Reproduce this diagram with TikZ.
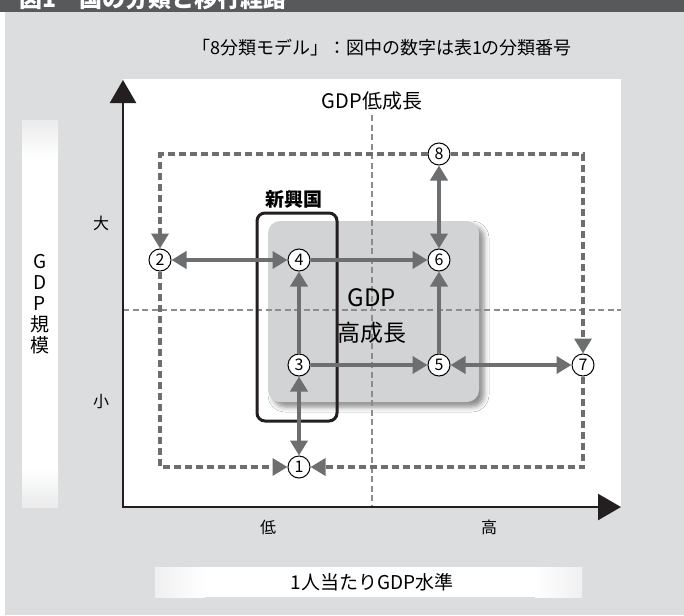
\documentclass[tikz,border=0pt]{standalone}
\usepackage{fontspec}
\setmainfont{Noto Sans CJK JP}
\usetikzlibrary{arrows.meta,shadows,shadows.blur,fadings}
\definecolor{bggray}{HTML}{DCDDDE}
\definecolor{hdr}{HTML}{58595B}
\definecolor{arr}{HTML}{6D6E70}
\definecolor{boxgray}{HTML}{D1D3D4}
\definecolor{thinc}{HTML}{8C8C8C}
\definecolor{axisc}{HTML}{231F20}
\tikzset{
  num/.style={circle, draw=black, line width=1pt, fill=white, minimum size=22pt, inner sep=0pt, font=\fontsize{16}{16}\selectfont},
  flow/.style={draw=arr, line width=4.5pt},
  dflow/.style={draw=arr, line width=3.5pt, dash pattern=on 7pt off 4pt, line join=miter, -{Triangle[length=15pt,width=17pt]}},
  thinline/.style={draw=thinc, line width=1.1pt, dash pattern=on 6pt off 3.5pt},
  lbl/.style={inner sep=0pt, font=\fontsize{16}{16}\selectfont},
  >={Triangle[length=15pt,width=17pt]}
}
\begin{document}
\begin{tikzpicture}[x=1pt,y=-1pt]
\useasboundingbox (0,0) rectangle (684,615);
\clip (0,0) rectangle (684,615);
% background
\fill[white] (0,0) rectangle (684,615);
\fill[bggray] (5,12) rectangle (684,615);
\fill[hdr] (0,0) rectangle (684,12);
\node[anchor=base west, inner sep=0pt, text=white, font=\bfseries\fontsize{23}{23}\selectfont] (title) at (19,8) {図1　国の分類と移行経路};
% left gradient bar
\shade[top color=bggray!60!white, bottom color=white] (22,120) rectangle (58,158);
\fill[white] (22,157.5) rectangle (58,468.5);
\shade[top color=white, bottom color=bggray!60!white] (22,468) rectangle (58,507);
% bottom gradient bar
\shade[left color=bggray!45!white, right color=white] (155,567) rectangle (205,597);
\fill[white] (204.5,567) rectangle (535.5,597);
\shade[left color=white, right color=bggray!45!white] (535,567) rectangle (582,597);
% plot area
\fill[white] (123,79) rectangle (621,507);
% subtitle
\node[inner sep=0pt, font=\fontsize{18}{18}\selectfont] (sub) at (382,48) {「8分類モデル」：図中の数字は表1の分類番号};
\node[inner sep=0pt, font=\fontsize{20}{20}\selectfont] (low) at (372,101) {GDP低成長};
% gray high-growth box
\path[fill=boxgray, rounded corners=12pt, blur shadow={shadow xshift=5pt, shadow yshift=-5pt, shadow blur radius=5pt, shadow opacity=45}] (268,221) rectangle (479,402);
% thin center lines
\draw[thinline] (372,115) -- (372,507);
\draw[thinline] (123,310) -- (621,310);
% emerging box
\draw[axisc, line width=3pt, rounded corners=8pt] (257,213) rectangle (337,421);
\node[inner sep=0pt, font=\bfseries\fontsize{19}{19}\selectfont] (emerg) at (294,199) {新興国};
% high growth text
\node[inner sep=0pt, font=\fontsize{24}{24}\selectfont] (gdp) at (372,298) {GDP};
\node[inner sep=0pt, font=\fontsize{23}{23}\selectfont] (high) at (372,333) {高成長};
% axes
\coordinate (ytip) at (123,80);
\coordinate (orig) at (123,507);
\coordinate (xtip) at (621,507);
\draw[axisc, line width=2.5pt, line join=miter, {Triangle[length=23pt,width=26pt]}-{Triangle[length=23pt,width=26pt]}] (ytip) -- (orig) -- (xtip);
% axis labels
\node[lbl] (big) at (101,223) {大};
\node[lbl] (small) at (101,402) {小};
\node[lbl] (lo) at (268,527) {低};
\node[lbl] (hi) at (489,527) {高};
\node[inner sep=0pt, font=\fontsize{19}{19}\selectfont] (xlab) at (372,582) {1人当たりGDP水準};
\begin{scope}[every node/.style={inner sep=0pt, font=\fontsize{19}{19}\selectfont}]
\node (yG) at (40,262) {G};
\node (yD) at (40,283) {D};
\node (yP) at (40,304) {P};
\node (yK1) at (40,324) {規};
\node (yK2) at (40,345) {模};
\end{scope}
% number nodes
\node[num] (n1) at (299,467) {1};
\node[num] (n2) at (160,260) {2};
\node[num] (n3) at (299,365) {3};
\node[num] (n4) at (299,260) {4};
\node[num] (n5) at (439,365) {5};
\node[num] (n6) at (439,260) {6};
\node[num] (n7) at (583,365) {7};
\node[num] (n8) at (439,154) {8};
% dashed paths
\draw[dflow] (n8) -| (n2);
\draw[dflow] (n8) -| (n7);
\draw[dflow] (n2) |- (n1);
\draw[dflow] (n7) |- (n1);
% solid arrows
\draw[flow,<->] (n2) -- (n4);
\draw[flow,->] (n4) -- (n6);
\draw[flow,->] (n3) -- (n4);
\draw[flow,->] (n3) -- (n5);
\draw[flow,->] (n5) -- (n6);
\draw[flow,<->] (n6) -- (n8);
\draw[flow,<->] (n5) -- (n7);
\draw[flow,<->] (n1) -- (n3);
\end{tikzpicture}
\end{document}
